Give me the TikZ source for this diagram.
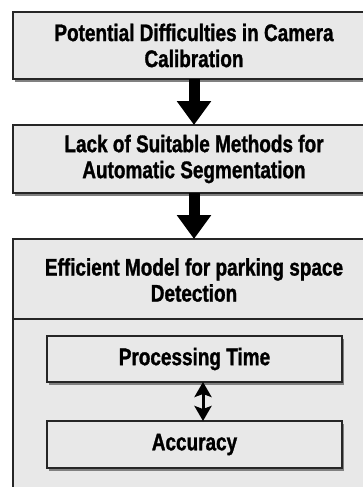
\documentclass[tikz,border=0pt]{standalone}
\usepackage{fontspec}
\setmainfont{Liberation Sans}[FakeStretch=0.79,FakeBold=1.2]
\usetikzlibrary{arrows.meta,shadows}
\begin{document}
\begin{tikzpicture}[x=1pt,y=-1pt,
  box/.style={draw=black!85, line width=1.2pt, fill=black!9, inner sep=0pt, outer sep=0pt,
    drop shadow={shadow xshift=2pt, shadow yshift=-2.5pt, fill=black!50, opacity=1}},
  txt/.style={font=\fontsize{24}{26}\selectfont\bfseries, align=center, text=black},
  bigarrow/.style={line width=11pt, -{Triangle[width=33pt,length=24pt]}},
  dblarrow/.style={line width=3pt, {Stealth[width=17pt,length=15pt,inset=3pt]}-{Stealth[width=17pt,length=15pt,inset=3pt]}}]
\useasboundingbox (0,0) rectangle (363,487);
\fill[white] (0,0) rectangle (363,487);
\begin{scope}
\clip (0,0) rectangle (363,487);
\node[box, txt, minimum width=362pt, minimum height=67pt] (b1) at (194,45.5)
  {Potential Difficulties in Camera\\Calibration};
\node[box, txt, minimum width=362pt, minimum height=68pt] (b2) at (194,159)
  {Lack of Suitable Methods for\\Automatic Segmentation};
\node[box, minimum width=362pt, minimum height=261pt] (b3) at (194,369.5) {};
\node[txt] (h3) at (194,280) {Efficient Model for parking space\\Detection};
\coordinate (d) at (0,319);
\draw[draw=black!85, line width=1.2pt] (b3.west |- d) -- (b3.east |- d);
\node[box, txt, minimum width=295pt, minimum height=46pt] (p1) at (194.5,359) {Processing Time};
\node[box, txt, minimum width=295pt, minimum height=47pt] (p2) at (194.5,444.5) {Accuracy};
\draw[bigarrow] (b1.south) -- (b2.north);
\draw[bigarrow] (b2.south) -- (b3.north);
\draw[dblarrow] ([xshift=8.5pt]p1.south) -- ([xshift=8.5pt]p2.north);
\end{scope}
\end{tikzpicture}
\end{document}
